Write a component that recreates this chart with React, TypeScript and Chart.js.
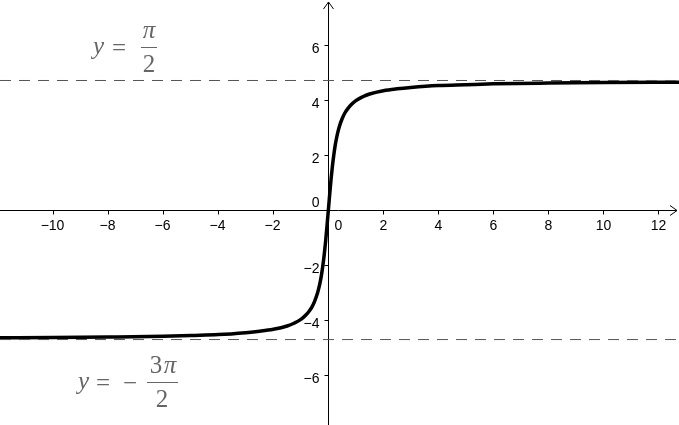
import React, { useEffect, useRef } from "react";
import { Chart, registerables } from "chart.js";

Chart.register(...registerables);

// View window (axis ranges)
const X_RANGE = [-11.94, 12.75];
const Y_RANGE = [-7.82, 7.64];

// Tick labels
const X_TICKS = [-10, -8, -6, -4, -2, 2, 4, 6, 8, 10, 12];
const Y_TICKS = [-6, -4, -2, 2, 4, 6];

// Curve samples
const CURVE_X = [
  -11.94, -10, -8, -6, -5, -4, -3, -2.5, -2, -1.5, -1.25, -1, -0.8, -0.7, -0.6, -0.5, -0.4, -0.35, -0.3, -0.25, -0.2, -0.15, -0.1, -0.05,
  0,
  0.05, 0.1, 0.15, 0.2, 0.25, 0.3, 0.35, 0.4, 0.5, 0.6, 0.7, 0.8, 1, 1.25, 1.5, 2, 2.5, 3, 4, 5, 6, 8, 10, 12, 12.75,
];
const CURVE_Y = [
  -4.65, -4.64, -4.62, -4.59, -4.56, -4.53, -4.46, -4.41, -4.34, -4.22, -4.12, -3.98, -3.8, -3.68, -3.53, -3.32, -3.04, -2.85, -2.63, -2.36, -2.02, -1.62, -1.14, -0.59,
  0,
  0.59, 1.14, 1.62, 2.02, 2.36, 2.63, 2.85, 3.04, 3.32, 3.53, 3.68, 3.8, 3.98, 4.12, 4.22, 4.34, 4.41, 4.46, 4.53, 4.56, 4.59, 4.62, 4.64, 4.65, 4.65,
];

// Horizontal asymptotes
const ASYMPTOTES = [4.712, -4.712];

const fmt = (v: number) => (v < 0 ? "\u2212" + Math.abs(v) : String(v));

const axesPlugin = {
  id: "axesPlugin",
  beforeDatasetsDraw(chart: any) {
    const { ctx, chartArea, scales } = chart;
    const xs = scales.x;
    const ys = scales.y;
    const x0 = Math.round(xs.getPixelForValue(0)) + 0.5;
    const y0 = Math.round(ys.getPixelForValue(0)) + 0.5;
    ctx.save();
    ctx.strokeStyle = "#000";
    ctx.lineWidth = 1;
    // x axis
    ctx.beginPath();
    ctx.moveTo(chartArea.left, y0);
    ctx.lineTo(chartArea.right - 2, y0);
    ctx.stroke();
    // x arrow
    ctx.beginPath();
    ctx.moveTo(chartArea.right - 9, y0 - 5);
    ctx.lineTo(chartArea.right - 2, y0);
    ctx.lineTo(chartArea.right - 9, y0 + 5);
    ctx.stroke();
    // y axis
    ctx.beginPath();
    ctx.moveTo(x0, chartArea.bottom);
    ctx.lineTo(x0, chartArea.top + 2);
    ctx.stroke();
    ctx.beginPath();
    ctx.moveTo(x0 - 5, chartArea.top + 9);
    ctx.lineTo(x0, chartArea.top + 2);
    ctx.lineTo(x0 + 5, chartArea.top + 9);
    ctx.stroke();

    ctx.fillStyle = "#000";
    ctx.font = "14px 'Liberation Sans', Arial, sans-serif";
    // x ticks
    ctx.textAlign = "center";
    ctx.textBaseline = "alphabetic";
    for (const t of X_TICKS) {
      const px = Math.round(xs.getPixelForValue(t)) + 0.5;
      ctx.beginPath();
      ctx.moveTo(px, y0);
      ctx.lineTo(px, y0 + 4);
      ctx.stroke();
      ctx.fillText(fmt(t), px + (t < 0 ? -1 : 0), y0 + 19);
    }
    // y ticks
    ctx.textAlign = "right";
    for (const t of Y_TICKS) {
      const py = Math.round(ys.getPixelForValue(t)) + 0.5;
      ctx.beginPath();
      ctx.moveTo(x0 - 4, py);
      ctx.lineTo(x0, py);
      ctx.stroke();
      ctx.fillText(fmt(t), x0 - 9, py + 7);
    }
    // origin labels
    ctx.fillText("0", x0 - 9, y0 - 4);
    ctx.textAlign = "left";
    ctx.fillText("0", x0 + 6, y0 + 19);
    ctx.restore();
  },
  afterDatasetsDraw(chart: any) {
    const { ctx } = chart;
    ctx.save();
    ctx.fillStyle = "#666";
    ctx.strokeStyle = "#666";
    const italic = "italic 25px 'Liberation Serif', 'DejaVu Serif', serif";
    const roman = "25px 'Liberation Serif', 'DejaVu Serif', serif";
    ctx.textBaseline = "alphabetic";
    // top label: y = π/2
    ctx.textAlign = "left";
    ctx.font = italic;
    ctx.fillText("y", 93, 54);
    ctx.font = roman;
    ctx.fillText("=", 112, 56);
    ctx.textAlign = "center";
    ctx.font = italic;
    ctx.fillText("\u03c0", 149, 38);
    ctx.lineWidth = 1;
    ctx.beginPath();
    ctx.moveTo(141, 47.5);
    ctx.lineTo(157, 47.5);
    ctx.stroke();
    ctx.font = roman;
    ctx.fillText("2", 149, 72);
    // bottom label: y = − 3π/2
    ctx.textAlign = "left";
    ctx.font = italic;
    ctx.fillText("y", 78, 389);
    ctx.font = roman;
    ctx.fillText("=", 96, 391);
    ctx.fillText("\u2212", 123, 391);
    ctx.textAlign = "center";
    ctx.fillText("3", 156, 373);
    ctx.font = italic;
    ctx.fillText("\u03c0", 170, 373);
    ctx.beginPath();
    ctx.moveTo(147, 382.5);
    ctx.lineTo(178, 382.5);
    ctx.stroke();
    ctx.font = roman;
    ctx.fillText("2", 162, 407);
    ctx.restore();
  },
};

export default function App() {
  const ref = useRef<HTMLCanvasElement | null>(null);
  useEffect(() => {
    document.body.style.margin = "0";
    const canvas = ref.current;
    if (!canvas) return;
    const curve = CURVE_X.map((x, i) => ({ x, y: CURVE_Y[i] }));
    const asymSets = ASYMPTOTES.map((v) => ({
      data: [
        { x: X_RANGE[0], y: v },
        { x: X_RANGE[1], y: v },
      ],
      borderColor: "#555",
      borderWidth: 1,
      borderDash: [11, 8],
      pointRadius: 0,
      fill: false,
    }));
    const chart = new Chart(canvas, {
      type: "line",
      data: {
        datasets: [
          ...asymSets,
          {
            data: curve,
            borderColor: "#000",
            borderWidth: 3.5,
            pointRadius: 0,
            fill: false,
            cubicInterpolationMode: "monotone",
          },
        ],
      } as any,
      options: {
        animation: false,
        responsive: false,
        maintainAspectRatio: false,
        devicePixelRatio: 1,
        layout: { padding: 0 },
        plugins: { legend: { display: false }, tooltip: { enabled: false } },
        events: [],
        scales: {
          x: { type: "linear", min: X_RANGE[0], max: X_RANGE[1], display: false },
          y: { type: "linear", min: Y_RANGE[0], max: Y_RANGE[1], display: false },
        },
      },
      plugins: [axesPlugin],
    });
    return () => chart.destroy();
  }, []);
  return (
    <div style={{ position: "fixed", left: 0, top: 0, width: 679, height: 425, background: "#fff" }}>
      <canvas ref={ref} width={679} height={425} style={{ width: 679, height: 425 }} />
    </div>
  );
}
